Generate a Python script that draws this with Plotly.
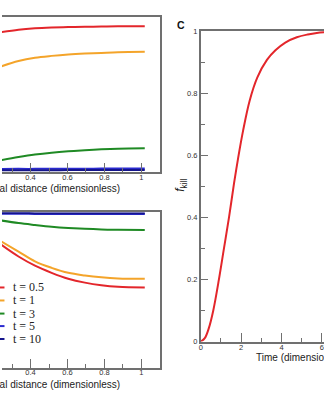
import plotly.graph_objects as go

# Radial profiles (dimensionless radius) for the two left panels
radius = [0.24, 0.335, 0.424, 0.514, 0.604, 0.694, 0.783, 0.873, 1.018]

top_t05 = [0.900, 0.916, 0.925, 0.930, 0.933, 0.935, 0.937, 0.938, 0.939]
top_t1 = [0.680, 0.715, 0.736, 0.748, 0.757, 0.763, 0.767, 0.771, 0.774]
top_t3 = [0.077, 0.097, 0.113, 0.125, 0.134, 0.141, 0.147, 0.151, 0.153]
top_t5 = [0.020, 0.021, 0.021, 0.022, 0.022, 0.022, 0.023, 0.023, 0.023]
top_t10 = [0.012, 0.012, 0.012, 0.012, 0.013, 0.013, 0.013, 0.013, 0.013]

bot_t05 = [0.792, 0.715, 0.656, 0.610, 0.572, 0.547, 0.530, 0.520, 0.516]
bot_t1 = [0.813, 0.747, 0.684, 0.642, 0.610, 0.593, 0.581, 0.574, 0.572]
bot_t3 = [0.947, 0.930, 0.918, 0.907, 0.899, 0.893, 0.889, 0.887, 0.885]
bot_t5 = [0.990, 0.990, 0.989, 0.989, 0.989, 0.989, 0.989, 0.989, 0.989]
bot_t10 = [0.995, 0.995, 0.994, 0.994, 0.994, 0.994, 0.994, 0.994, 0.994]

# Killed fraction versus time (panel C)
time_c = [0, 0.2, 0.4, 0.62, 0.9, 1.15, 1.4, 1.65, 1.85, 2.1, 2.42,
          2.8, 3.28, 3.7, 4.19, 4.76, 5.3, 5.75, 6.3]
f_kill = [0, 0.011, 0.043, 0.1, 0.2, 0.3, 0.4, 0.51, 0.59, 0.68, 0.775,
          0.85, 0.907, 0.938, 0.963, 0.98, 0.989, 0.994, 0.997]

legend_labels = ["t = 0.5", "t = 1", "t = 3", "t = 5", "t = 10"]
colors = ["#e3262b", "#f4a42a", "#1f8a24", "#2a2ad0", "#14148c"]

top_series = [top_t05, top_t1, top_t3, top_t5, top_t10]
bot_series = [bot_t05, bot_t1, bot_t3, bot_t5, bot_t10]

W, H = 324, 400
AX = "#707070"
TICKFONT = dict(family="Liberation Sans, Arial, sans-serif", size=7.5, color="#333333")
TITLEFONT = dict(family="Liberation Sans, Arial, sans-serif", size=10, color="#222222")


def px_x(p):
    return p / W


def px_y(p):
    return 1 - p / H


fig = go.Figure()

for ys, c in zip(top_series, colors):
    fig.add_trace(go.Scatter(x=radius, y=ys, mode="lines", line=dict(color=c, width=2, shape="spline"),
                             xaxis="x", yaxis="y", showlegend=False))
for ys, c in zip(bot_series, colors):
    fig.add_trace(go.Scatter(x=radius, y=ys, mode="lines", line=dict(color=c, width=2, shape="spline"),
                             xaxis="x2", yaxis="y2", showlegend=False))
fig.add_trace(go.Scatter(x=time_c, y=f_kill, mode="lines", line=dict(color="#e3262b", width=2, shape="spline"),
                         xaxis="x3", yaxis="y3", showlegend=False))

radial_x = dict(range=[0.2457, 1.1005], dtick=0.2, ticks="inside", ticklen=9, tickwidth=1.3,
                tickcolor=AX, showline=True, linecolor=AX, linewidth=1.5, mirror=True,
                showgrid=False, zeroline=False, tickfont=TICKFONT, ticklabelstandoff=-3,
                minor=dict(ticks="inside", ticklen=4, dtick=0.1, tickcolor=AX, tickwidth=1.2))
radial_y = dict(range=[0, 1], showline=True, linecolor=AX, linewidth=1.5, side="right",
                showticklabels=False, ticks="", showgrid=False, zeroline=False)

fig.update_layout(
    width=W, height=H, margin=dict(l=0, r=0, t=0, b=0),
    paper_bgcolor="white", plot_bgcolor="white",
    xaxis=dict(domain=[0, px_x(159)], anchor="y", **radial_x),
    yaxis=dict(domain=[px_y(172), px_y(13)], anchor="x", **radial_y),
    xaxis2=dict(domain=[0, px_x(159)], anchor="y2", **radial_x),
    yaxis2=dict(domain=[px_y(372), px_y(213)], anchor="x2", **radial_y),
    xaxis3=dict(domain=[px_x(200), 1], anchor="y3", range=[0, 124 / 20.3], dtick=2,
                ticks="inside", ticklen=9, tickwidth=1.3, tickcolor=AX,
                showline=True, linecolor=AX, linewidth=1.5, mirror=True,
                showgrid=False, zeroline=False, tickfont=TICKFONT, ticklabelstandoff=-2,
                minor=dict(ticks="inside", ticklen=4, dtick=1, tickcolor=AX, tickwidth=1.2)),
    yaxis3=dict(domain=[px_y(345.3), px_y(27.7)], anchor="x3", range=[0, 1], dtick=0.2,
                ticks="inside", ticklen=7, tickwidth=1.3, tickcolor=AX,
                showline=True, linecolor=AX, linewidth=1.5,
                showgrid=False, zeroline=False, tickfont=TICKFONT,
                minor=dict(ticks="inside", ticklen=4, dtick=0.1, tickcolor=AX, tickwidth=1.2)),
)

annotations = [
    dict(text="Radial distance (dimensionless)", x=px_x(121), y=px_y(189), xanchor="right",
         yanchor="middle", font=TITLEFONT),
    dict(text="Radial distance (dimensionless)", x=px_x(121), y=px_y(389), xanchor="right",
         yanchor="middle", font=TITLEFONT),
    dict(text="Time (dimensionless)", x=px_x(254), y=px_y(362), xanchor="left",
         yanchor="middle", font=TITLEFONT),
    dict(text="<b>C</b>", x=px_x(180), y=px_y(21.5), xanchor="center", yanchor="middle",
         font=dict(family="Liberation Sans, Arial, sans-serif", size=10.5, color="#111111")),
    dict(text="<i>f</i><sub>kill</sub>", x=px_x(180), y=px_y(185), xanchor="center",
         yanchor="middle", textangle=-90,
         font=dict(family="Liberation Sans, Arial, sans-serif", size=12, color="#222222")),
]

legend_rows = [290, 303.3, 316.7, 329.5, 342.7]
shapes = []
for lab, c, yy in zip(legend_labels, colors, legend_rows):
    annotations.append(dict(text=lab, x=px_x(9), y=px_y(yy), xanchor="left", yanchor="middle",
                            font=dict(family="Liberation Serif, Times New Roman, serif",
                                      size=12, color="#222222")))
    shapes.append(dict(type="line", x0=px_x(-8), x1=px_x(2.5), y0=px_y(yy), y1=px_y(yy),
                       xref="paper", yref="paper", line=dict(color=c, width=2)))

for a in annotations:
    a.update(xref="paper", yref="paper", showarrow=False)

fig.update_layout(annotations=annotations, shapes=shapes)

fig.write_html("out.html")
